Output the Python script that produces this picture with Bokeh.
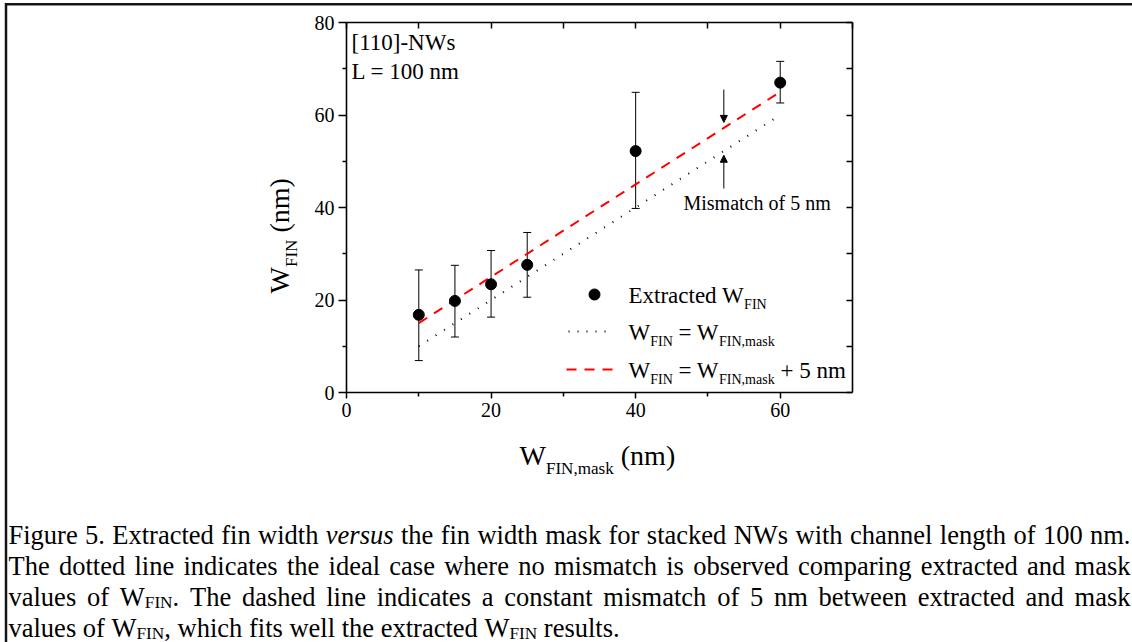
import math
import re
from bokeh.plotting import figure
from bokeh.models import (Range1d, LinearAxis, FixedTicker, Label, Whisker, ColumnDataSource,
                          TeeHead, Arrow, NormalHead)
from bokeh.embed import file_html
from bokeh.resources import INLINE

# ---------------- data ----------------
mask_width = [10, 15, 20, 25, 40, 60]                 # W_FIN,mask (nm)
w_fin_extracted = [16.8, 19.8, 23.4, 27.6, 52.2, 67.0]
w_fin_lower = [6.9, 12.0, 16.3, 20.6, 39.8, 62.6]
w_fin_upper = [26.5, 27.5, 30.7, 34.6, 64.9, 71.6]
line_mask = [10, 60]
line_ideal = [10, 60]        # W_FIN = W_FIN,mask
line_offset = [15, 65]       # W_FIN = W_FIN,mask + 5 nm
x_limits = (0, 70)
y_limits = (0, 80)
x_major = [0, 20, 40, 60]
x_minor = [10, 30, 50]
y_major = [0, 20, 40, 60, 80]
y_minor = [10, 30, 50, 70]
frame_ticks_x = [0, 10, 20, 30, 40, 50, 60, 70]
frame_ticks_y = [0, 10, 20, 30, 40, 50, 60, 70, 80]

caption_lines = [
    "Figure 5. Extracted fin width *versus* the fin width mask for stacked NWs with channel length of 100 nm.",
    "The dotted line indicates the ideal case where no mismatch is observed comparing extracted and mask",
    "values of W_{FIN}. The dashed line indicates a constant mismatch of 5 nm between extracted and mask",
    "values of W_{FIN}, which fits well the extracted W_{FIN} results.",
]

# ---------------- layout ----------------
W, H = 1132, 642
FL, FR, FT, FB = 346, 852, 22, 392          # where the plot box sits on the page
SERIF = "Liberation Serif"
sx = (FR - FL) / (x_limits[1] - x_limits[0])
sy = (FB - FT) / (y_limits[1] - y_limits[0])
xr = Range1d(x_limits[0] - FL / sx, x_limits[1] + (W - FR) / sx)
yr = Range1d(y_limits[0] - (H - FB) / sy, y_limits[1] + FT / sy)

p = figure(width=W, height=H, x_range=xr, y_range=yr,
           output_backend="svg", toolbar_location=None, title=None, min_border=0)
p.extra_x_ranges = {"px": Range1d(0, W)}
p.extra_y_ranges = {"py": Range1d(H, 0)}
p.xgrid.visible = False
p.ygrid.visible = False
p.background_fill_color = "white"
p.border_fill_color = "white"
p.outline_line_color = None

def style_axis(ax, ticks, minor, out_major, out_minor, loc, bounds, labels=True, tin=0):
    ax.fixed_location = loc
    ax.bounds = bounds
    ax.ticker = FixedTicker(ticks=ticks, minor_ticks=minor)
    ax.axis_line_color = "black"
    ax.axis_line_width = 1.6
    ax.major_tick_line_width = 1.5
    ax.minor_tick_line_width = 1.5
    ax.major_tick_out = out_major
    ax.minor_tick_out = out_minor
    ax.major_tick_in = tin
    ax.minor_tick_in = 0
    if labels:
        ax.major_label_text_font = SERIF
        ax.major_label_text_font_size = "20px"
        ax.major_label_text_color = "black"
        ax.major_label_standoff = 4
    else:
        ax.major_label_text_color = None

style_axis(p.xaxis[0], x_major, x_minor, 6, 4, y_limits[0], x_limits)
style_axis(p.yaxis[0], y_major, y_minor, 8, 4, x_limits[0], y_limits)
top = LinearAxis()
style_axis(top, frame_ticks_x, [], 0, 0, y_limits[1], x_limits, labels=False, tin=6)
p.add_layout(top, "above")
right = LinearAxis()
style_axis(right, frame_ticks_y, [], 0, 0, x_limits[1], y_limits, labels=False, tin=6)
p.add_layout(right, "right")

# ---------------- data marks ----------------
src = ColumnDataSource(dict(x=mask_width, y=w_fin_extracted, lo=w_fin_lower, hi=w_fin_upper))
p.add_layout(Whisker(source=src, base="x", lower="lo", upper="hi", line_color="black", line_width=1,
                     lower_head=TeeHead(size=8, line_color="black", line_width=1),
                     upper_head=TeeHead(size=8, line_color="black", line_width=1)))
p.line(line_mask, line_ideal, line_color="black", line_width=2, line_dash="1 9")
p.line(line_mask, line_offset, line_color="#ff0000", line_width=2, line_dash="10 8")
p.scatter("x", "y", source=src, size=11, color="black")

# arrows for mismatch
for ys, ye in [(65.5, 58.4), (44.1, 51.3)]:
    p.add_layout(Arrow(x_start=52.2, y_start=ys, x_end=52.2, y_end=ye, line_width=1, line_color="black",
                       end=NormalHead(size=7, fill_color="black", line_color="black", line_width=1)))

# ---------------- text helpers ----------------
TR = dict(A=722, B=667, C=667, D=722, E=611, F=556, G=722, H=722, I=333, J=389, K=722, L=611, M=889,
          N=722, O=722, P=556, Q=722, R=667, S=556, T=611, U=722, V=722, W=944, X=722, Y=722, Z=611,
          a=444, b=500, c=444, d=500, e=444, f=333, g=500, h=500, i=278, j=278, k=500, l=278, m=778,
          n=500, o=500, p=500, q=500, r=333, s=389, t=278, u=500, v=500, w=722, x=500, y=500, z=444)
TR.update({" ": 250, ".": 250, ",": 250, "[": 333, "]": 333, "-": 333, "=": 564, "+": 564,
           "(": 333, ")": 333})
for dgt in "0123456789":
    TR[dgt] = 500
TI = dict(TR)
TI.update(dict(a=500, e=444, r=389, s=389, u=500, v=444))
BASE_FIX = 0.28   # renderer puts alphabetic baseline this many em lower than asked

def tw(s, size, italic=False):
    tab = TI if italic else TR
    return sum(tab.get(c, 500) for c in s) / 1000.0 * size

def label(x, y, text, size, italic=False, angle=0.0, color="black"):
    if angle == 0:
        y -= BASE_FIX * size
    else:
        x -= BASE_FIX * size
    p.add_layout(Label(x=x, y=y, x_range_name="px", y_range_name="py", text=text,
                       text_font=SERIF, text_font_size=f"{size:.2f}px",
                       text_font_style="italic" if italic else "normal",
                       text_color=color, text_baseline="alphabetic", text_align="left",
                       angle=angle))

def runs_of(s):
    out = []
    for sub, ital, norm in re.findall(r"_\{([^}]*)\}|\*([^*]*)\*|([^_*]+)", s):
        if sub:
            out.append((sub, "sub"))
        elif ital:
            out.append((ital, "i"))
        else:
            out.append((norm, "n"))
    return out

def runs_width(runs, size, ratio):
    return sum(tw(t, size * ratio if k == "sub" else size, k == "i") for t, k in runs)

def draw_runs(runs, x, y, size, ratio, shift, vertical=False):
    for t, k in runs:
        sz = size * ratio if k == "sub" else size
        lead = len(t) - len(t.lstrip(" "))
        core = t.strip(" ")
        adv_lead = tw(" " * lead, sz)
        adv_core = tw(core, sz, k == "i")
        adv_trail = tw(" " * (len(t) - lead - len(core)), sz)
        if vertical:
            y -= adv_lead
            if core:
                label(x + (shift if k == "sub" else 0), y, core, sz, k == "i", angle=math.pi / 2)
            y -= adv_core + adv_trail
        else:
            x += adv_lead
            if core:
                label(x, y + (shift if k == "sub" else 0), core, sz, k == "i")
            x += adv_core + adv_trail
    return x, y

# ---------------- in-plot texts ----------------
label(351, 48, "[110]-NWs", 23)
label(351, 77, "L = 100 nm", 23)
label(683, 208, "Mismatch of 5 nm", 20)

# axis titles
draw_runs(runs_of("W_{FIN,mask} (nm)"), 519, 463, 28, 0.61, 10)
draw_runs(runs_of("W_{FIN} (nm)"), 287, 293, 28, 0.61, 9, vertical=True)

# legend
p.scatter([594], [294], x_range_name="px", y_range_name="py", size=11, color="black")
p.line([568, 612], [331, 331], x_range_name="px", y_range_name="py", line_color="black",
       line_width=2, line_dash="1 8")
p.line([566, 614], [369, 369], x_range_name="px", y_range_name="py", line_color="#ff0000",
       line_width=2, line_dash="10 8")
legend_texts = ["Extracted W_{FIN}", "W_{FIN} = W_{FIN,mask}", "W_{FIN} = W_{FIN,mask} + 5 nm"]
for txt, yb in zip(legend_texts, [301.5, 338.5, 376.5]):
    draw_runs(runs_of(txt), 628, yb, 23, 0.61, 6)

# ---------------- caption ----------------
CAP = 26.5
CAP_RATIO = 0.65
CAP_SHIFT = 3
cap_left, cap_right = 8, 1130
cap_base = [542, 573, 604, 635]
for i, (line_txt, yb) in enumerate(zip(caption_lines, cap_base)):
    words = [runs_of(wd) for wd in line_txt.split(" ")]
    widths = [runs_width(r, CAP, CAP_RATIO) for r in words]
    if i < len(caption_lines) - 1:
        gap = (cap_right - cap_left - sum(widths)) / (len(words) - 1)
    else:
        gap = tw(" ", CAP)
    x = cap_left
    for r, wdt in zip(words, widths):
        draw_runs(r, x, yb, CAP, CAP_RATIO, CAP_SHIFT)
        x += wdt + gap

# page frame lines (top and left edges of the figure box)
p.line([5.5, 5.5, W + 10], [H + 10, 3.8, 3.8], x_range_name="px", y_range_name="py",
       line_color="#151515", line_width=2.5, line_join="miter")

open("out.html", "w").write(file_html(p, INLINE))
